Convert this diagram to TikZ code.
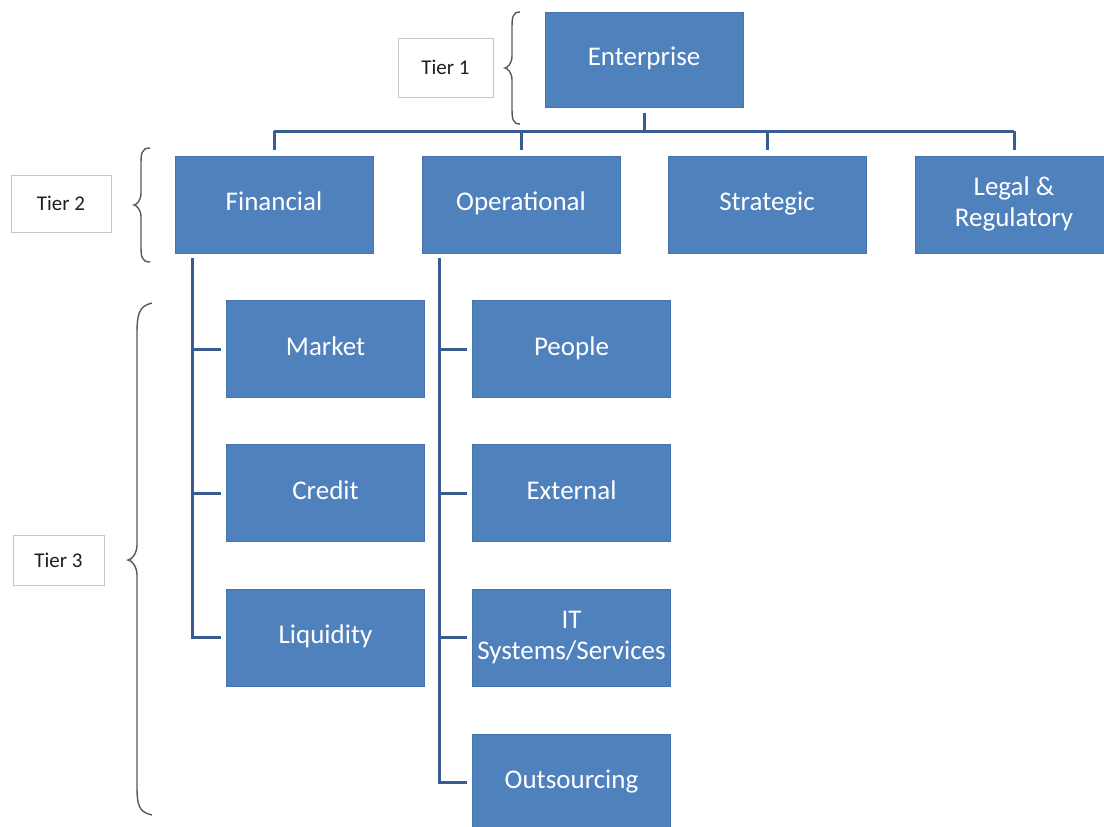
\documentclass[tikz,border=0pt]{standalone}
\usepackage{fontspec}
\setmainfont{Carlito}
\definecolor{boxblue}{HTML}{4F81BD}
\definecolor{boxedge}{HTML}{4674AD}
\definecolor{linkblue}{HTML}{3A5D90}
\definecolor{tiertext}{HTML}{1F1F1F}
\begin{document}
\begin{tikzpicture}[x=1pt,y=-1pt,
  rbox/.style={rectangle, fill=boxblue, draw=boxedge, line width=0.8pt,
    minimum width=198pt, minimum height=97pt, inner sep=0pt, align=center,
    text=white, font=\fontsize{27}{31}\selectfont},
  tierbox/.style={rectangle, fill=white, draw=black!22, line width=1pt,
    inner sep=0pt, text=tiertext, font=\fontsize{21}{24}\selectfont},
  conn/.style={draw=linkblue, line width=3pt},
  bracestyle/.style={draw=black!65, line width=1.4pt}]
\useasboundingbox (0,0) rectangle (1104,827);

% tier 1
\node[rbox, minimum height=95pt] (ent) at (644,59.5) {\strut Enterprise};
% tier 2
\node[rbox] (fin) at (274,204.5) {\strut Financial};
\node[rbox] (ope) at (521,204.5) {\strut Operational};
\node[rbox] (str) at (767,204.5) {\strut Strategic};
\node[rbox] (leg) at (1014,204.5) {\strut Legal \&\\\strut Regulatory};
% tier 3
\node[rbox] (mkt) at (325.5,349) {\strut Market};
\node[rbox] (cre) at (325.5,493) {\strut Credit};
\node[rbox] (liq) at (325.5,637.5) {\strut Liquidity};
\node[rbox] (peo) at (571.5,349) {\strut People};
\node[rbox] (ext) at (571.5,493) {\strut External};
\node[rbox] (its) at (571.5,637.5) {\strut IT\\\strut Systems/Services};
\node[rbox] (out) at (571.5,782.5) {\strut Outsourcing};

% tier labels
\node[tierbox, minimum width=95pt, minimum height=59pt] (t1) at (445.5,67.5) {Tier 1};
\node[tierbox, minimum width=100pt, minimum height=57pt] (t2) at (61,203.5) {Tier 2};
\node[tierbox, minimum width=91pt, minimum height=50pt] (t3) at (58.5,560) {Tier 3};

% connectors tier 1 -> tier 2
\coordinate (bar) at (0,131);
\draw[conn] ([yshift=-6pt]ent.south) -- (ent.south |- bar);
\draw[conn] (fin.north |- bar) -- (leg.north |- bar);
\foreach \n in {fin,ope,str,leg}{
  \draw[conn] (\n.north |- bar) -- ([yshift=6pt]\n.north);
}

% connectors tier 2 -> tier 3
\coordinate (fs) at ([xshift=18pt,yshift=-5pt]fin.south west);
\draw[conn] (fs) |- ([xshift=-5pt]liq.west);
\draw[conn] (fs |- mkt.west) -- ([xshift=-5pt]mkt.west);
\draw[conn] (fs |- cre.west) -- ([xshift=-5pt]cre.west);

\coordinate (os) at ([xshift=18pt,yshift=-5pt]ope.south west);
\draw[conn] (os) |- ([xshift=-5pt]out.west);
\draw[conn] (os |- peo.west) -- ([xshift=-5pt]peo.west);
\draw[conn] (os |- ext.west) -- ([xshift=-5pt]ext.west);
\draw[conn] (os |- its.west) -- ([xshift=-5pt]its.west);

% braces
\draw[bracestyle] (520,12) .. controls (512,12) and (512,18) .. (512,30)
  -- (512,56) .. controls (512,64) and (507,68) .. (505,68)
  .. controls (507,68) and (512,72) .. (512,80)
  -- (512,106) .. controls (512,118) and (512,124) .. (520,124);
\draw[bracestyle] (150,148) .. controls (141,148) and (141,154) .. (141,166)
  -- (141,193) .. controls (141,201) and (136,205) .. (134,205)
  .. controls (136,205) and (141,209) .. (141,217)
  -- (141,244) .. controls (141,256) and (141,262) .. (150,262);
\draw[bracestyle] (152,303) .. controls (138,306) and (137,316) .. (137,335)
  -- (137,545) .. controls (137,554) and (131,560) .. (128,560)
  .. controls (131,560) and (137,566) .. (137,575)
  -- (137,785) .. controls (137,804) and (138,812) .. (152,815);
\end{tikzpicture}
\end{document}
